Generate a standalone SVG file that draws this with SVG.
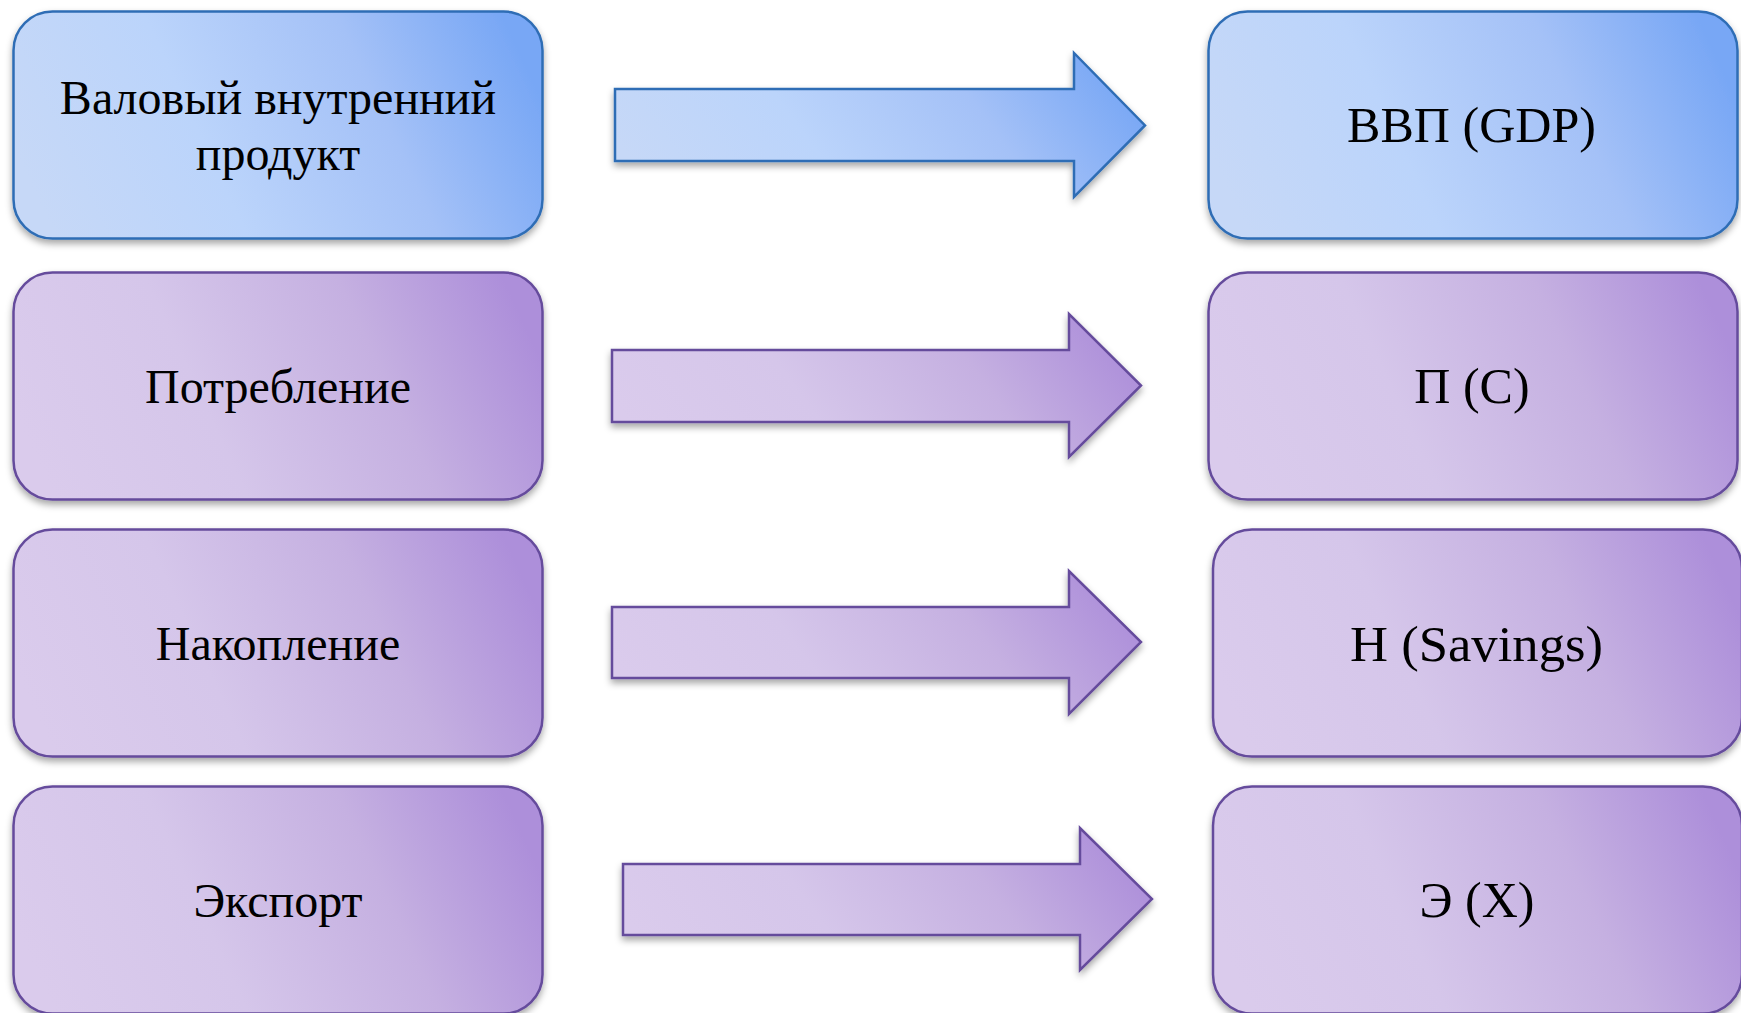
<svg xmlns="http://www.w3.org/2000/svg" width="1741" height="1013" viewBox="0 0 1741 1013">
<defs>
<linearGradient id="gBlue" x1="0" y1="0.6" x2="1" y2="0.4">
<stop offset="0" stop-color="#c6d8f7"/>
<stop offset="0.35" stop-color="#bbd4fb"/>
<stop offset="0.7" stop-color="#a4c1f7"/>
<stop offset="1" stop-color="#78a7f5"/>
</linearGradient>
<linearGradient id="gPurple" x1="0" y1="0.6" x2="1" y2="0.4">
<stop offset="0" stop-color="#dacbec"/>
<stop offset="0.35" stop-color="#d5c6ea"/>
<stop offset="0.7" stop-color="#c5b0e1"/>
<stop offset="1" stop-color="#ad8fda"/>
</linearGradient>
<filter id="sh" x="-10%" y="-10%" width="120%" height="130%">
<feDropShadow dx="0" dy="4" stdDeviation="3.5" flood-color="#000" flood-opacity="0.35"/>
</filter>
</defs>
<style>
.bb{fill:url(#gBlue);stroke:#2f6db5;stroke-width:2.5;filter:url(#sh)}
.bp{fill:url(#gPurple);stroke:#654b9c;stroke-width:2.5;filter:url(#sh)}
.t{font-family:"Liberation Serif","Times New Roman",serif;font-size:48px;fill:#000;text-anchor:middle}
.r{font-size:50px}
</style>
<rect width="1741" height="1013" fill="#ffffff"/>
<g id="connectors">
<path class="bb" d="M615,89 H1074 V53 L1145,125.5 L1074,197 V161 H615 Z"/>
<path class="bp" d="M612,350 H1069 V314 L1141,385.5 L1069,457 V422 H612 Z"/>
<path class="bp" d="M612,607 H1069 V571 L1141,642 L1069,714 V678 H612 Z"/>
<path class="bp" d="M623,864 H1080 V828 L1152,899 L1080,970 V935 H623 Z"/>
</g>
<g id="node-vvp-ru"><rect class="bb" x="13.5" y="11.5" width="529" height="227" rx="39"/>
<text class="t" x="278" y="114">Валовый внутренний</text><text class="t" x="278" y="170">продукт</text></g>
<g id="node-consumption-ru"><rect class="bp" x="13.5" y="272.5" width="529" height="227" rx="39"/>
<text class="t" x="278" y="403">Потребление</text></g>
<g id="node-savings-ru"><rect class="bp" x="13.5" y="529.5" width="529" height="227" rx="39"/>
<text class="t" x="278" y="660">Накопление</text></g>
<g id="node-export-ru"><rect class="bp" x="13.5" y="786.5" width="529" height="227" rx="39"/>
<text class="t" x="278" y="917">Экспорт</text></g>
<g id="node-gdp"><rect class="bb" x="1208.5" y="11.5" width="529" height="227" rx="39"/>
<text class="t r" x="1471.5" y="142" textLength="249" lengthAdjust="spacingAndGlyphs">ВВП (GDP)</text></g>
<g id="node-c"><rect class="bp" x="1208.5" y="272.5" width="529" height="227" rx="39"/>
<text class="t r" x="1472" y="403">П (С)</text></g>
<g id="node-h"><rect class="bp" x="1213" y="529.5" width="529" height="227" rx="39"/>
<text class="t r" x="1476.5" y="661" textLength="253" lengthAdjust="spacingAndGlyphs">Н (Savings)</text></g>
<g id="node-x"><rect class="bp" x="1213" y="786.5" width="529" height="227" rx="39"/>
<text class="t r" x="1477" y="917">Э (X)</text></g>
</svg>
